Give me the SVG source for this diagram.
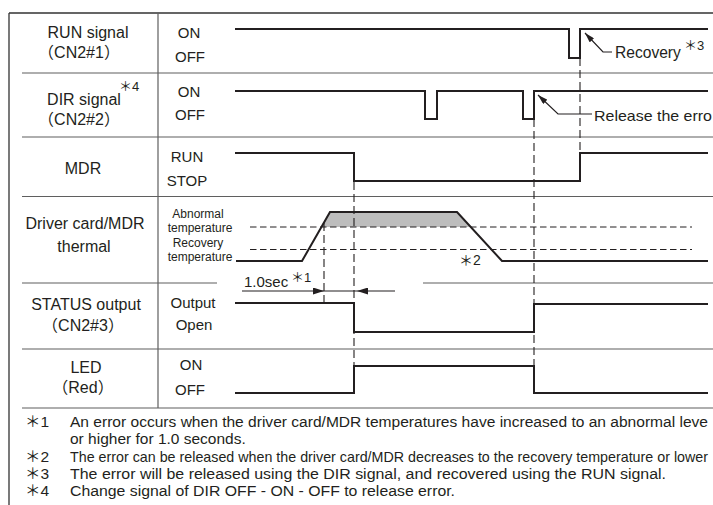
<svg xmlns="http://www.w3.org/2000/svg" width="713" height="505" viewBox="0 0 713 505">
<defs>
<style>
text{font-family:'Liberation Sans',Arial,'Noto Sans CJK JP',sans-serif;fill:#231f20}
.lbl{font-size:16px;text-anchor:middle}
.st{font-size:15px;text-anchor:middle}
.tmp{font-size:12px;text-anchor:middle}
.sup{font-size:13px}
.fn{font-size:15.5px}
.grid{stroke:#5f5f5f;stroke-width:1.2;fill:none}
.frame{stroke:#333;stroke-width:1.3;fill:none}
.sig{stroke:#231f20;stroke-width:2;fill:none;stroke-linejoin:miter}
.vd{stroke:#231f20;stroke-width:1.1;stroke-dasharray:8 4;fill:none}
.hd{stroke:#231f20;stroke-width:1;stroke-dasharray:6.5 3.5;fill:none}
.ld{stroke:#231f20;stroke-width:1.2;fill:none}
</style>
<marker id="ah" viewBox="0 0 10 6" refX="10" refY="3" markerWidth="10" markerHeight="6" markerUnits="userSpaceOnUse" orient="auto"><path d="M0,0 L10,3 L0,6 z" fill="#231f20"/></marker>
<marker id="ah2" viewBox="0 0 11 7" refX="11" refY="3.5" markerWidth="11" markerHeight="7" markerUnits="userSpaceOnUse" orient="auto"><path d="M0,0 L11,3.5 L0,7 z" fill="#231f20"/></marker>
</defs>
<rect width="713" height="505" fill="#fff"/>

<g id="grid">
<path class="frame" d="M9,13 H713 M9,13 V505"/>
<path class="grid" d="M158,13 V408 M22,73 H713 M22,137 H713 M22,196.5 H713 M22,283 H217 M423,283 H713 M22,349 H713 M22,408 H713"/>
</g>

<g id="row-run">
<text class="lbl" x="88" y="38">RUN signal</text>
<text class="lbl" x="79" y="58">（CN2#1）</text>
<text class="st" x="189" y="38">ON</text>
<text class="st" x="190" y="62">OFF</text>
<path class="sig" d="M235,29 H569 V58 H580 V29 H708"/>
</g>

<g id="row-dir">
<text class="lbl" x="84" y="105">DIR signal</text>
<text class="sup" x="119" y="91">＊4</text>
<text class="lbl" x="79" y="125">（CN2#2）</text>
<text class="st" x="189" y="97">ON</text>
<text class="st" x="190" y="120">OFF</text>
<path class="sig" d="M235,91 H425 V119 H437 V91 H523 V119 H534 V91 H708"/>
</g>

<g id="row-mdr">
<text class="lbl" x="83" y="174">MDR</text>
<text class="st" x="187" y="162">RUN</text>
<text class="st" x="187" y="186">STOP</text>
<path class="sig" d="M235,153 H354 V181 H580 V153 H708"/>
</g>

<g id="row-thermal">
<text class="lbl" x="85" y="229">Driver card/MDR</text>
<text class="lbl" x="84" y="252">thermal</text>
<text class="tmp" x="198" y="218">Abnormal</text>
<text class="tmp" x="200" y="232">temperature</text>
<text class="tmp" x="198" y="247">Recovery</text>
<text class="tmp" x="200" y="261">temperature</text>
<polygon points="321.4,227 330,212 457,212 470.8,227" fill="#bdbdbd"/>
<path class="hd" d="M250,227 H692 M250,249.5 H692"/>
<path class="sig" d="M236,261 H302 L330,212 H457 L502,261 H708"/>
<text class="sup" x="459" y="265" style="font-size:14px">＊2</text>
</g>

<g id="row-status">
<text class="lbl" x="86" y="310">STATUS output</text>
<text class="lbl" x="83" y="331">（CN2#3）</text>
<text class="st" x="193" y="308">Output</text>
<text class="st" x="194" y="330">Open</text>
<path class="sig" d="M235,303 H354 V332 H534 V304 H708"/>
</g>

<g id="row-led">
<text class="lbl" x="86" y="373">LED</text>
<text class="lbl" x="83" y="393">（Red）</text>
<text class="st" x="191" y="370">ON</text>
<text class="st" x="190" y="395">OFF</text>
<path class="sig" d="M235,393 H354 V366 H534 V393 H708"/>
</g>

<g id="connectors">
<path class="vd" d="M324,223 V303 M354,182 V366 M534,119 V366 M580,58 V153"/>
<path class="ld" d="M242,291 H324" marker-end="url(#ah2)"/>
<path class="ld" d="M324,291 H357"/>
<path class="ld" d="M395,291 H357" marker-end="url(#ah2)"/>
<path class="ld" d="M612,52 H603 L585,33" marker-end="url(#ah)"/>
<path class="ld" d="M592,114 H558 L538,95" marker-end="url(#ah)"/>
</g>

<g id="annotations">
<text x="244" y="287" style="font-size:15px">1.0sec</text>
<text class="sup" x="291" y="282">＊1</text>
<text x="615" y="58" style="font-size:15.6px">Recovery</text>
<text class="sup" x="684" y="50">＊3</text>
<text x="594" y="121" style="font-size:15px" textLength="118" lengthAdjust="spacingAndGlyphs">Release the erro</text>
</g>

<g id="footnotes">
<text class="fn" x="25" y="427">＊1</text>
<text class="fn" x="70" y="427" textLength="638" lengthAdjust="spacingAndGlyphs">An error occurs when the driver card/MDR temperatures have increased to an abnormal leve</text>
<text class="fn" x="70" y="444">or higher for 1.0 seconds.</text>
<text class="fn" x="25" y="462">＊2</text>
<text x="70" y="462" style="font-size:14.2px" textLength="638" lengthAdjust="spacingAndGlyphs">The error can be released when the driver card/MDR decreases to the recovery temperature or lower</text>
<text class="fn" x="25" y="479">＊3</text>
<text class="fn" x="70" y="479" textLength="596" lengthAdjust="spacingAndGlyphs">The error will be released using the DIR signal, and recovered using the RUN signal.</text>
<text class="fn" x="25" y="496">＊4</text>
<text class="fn" x="70" y="496" textLength="385" lengthAdjust="spacingAndGlyphs">Change signal of DIR OFF - ON - OFF to release error.</text>
</g>
</svg>
